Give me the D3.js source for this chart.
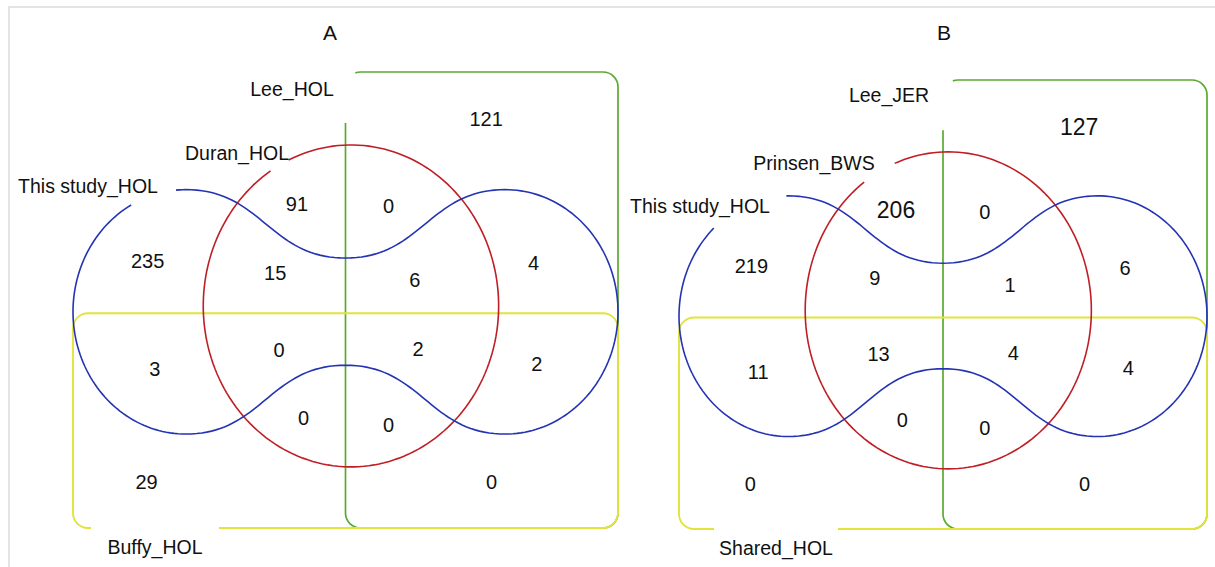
<!DOCTYPE html>
<html>
<head>
<meta charset="utf-8">
<script src="https://cdn.jsdelivr.net/npm/d3@7"></script>
<style>
  body { margin: 0; background: #fff; }
  text { font-family: "Liberation Sans", Arial, sans-serif; fill: #111; }
</style>
</head>
<body>
<div id="chart"></div>
<script>
const W = 1215, H = 567;

// region keys: T = this study (blue), D = second study (red), L = Lee (green), Y = fourth set (yellow)
const regionKeys = ['L', 'D', 'DL', 'T', 'TD', 'TDL', 'TL', 'TY', 'TDY', 'TDLY', 'TLY', 'DY', 'DLY', 'Y', 'LY'];
const valuesA = [121, 91, 0, 235, 15, 6, 4, 3, 0, 2, 2, 0, 0, 29, 0];
const valuesB = [127, 206, 0, 219, 9, 1, 6, 11, 13, 4, 4, 0, 0, 0, 0];
const setNamesA = ['This study_HOL', 'Duran_HOL', 'Lee_HOL', 'Buffy_HOL'];
const setNamesB = ['This study_HOL', 'Prinsen_BWS', 'Lee_JER', 'Shared_HOL'];
const panelTitles = ['A', 'B'];

// where each region's count sits, in unit coordinates of a panel
const regionPos = {
  L: [0.758, 0.104], D: [0.411, 0.29], DL: [0.579, 0.294],
  T: [0.137, 0.414], TD: [0.371, 0.441], TDL: [0.627, 0.457], TL: [0.845, 0.418],
  TY: [0.150, 0.651], TDY: [0.378, 0.61], TDLY: [0.633, 0.607], TLY: [0.851, 0.641],
  DY: [0.423, 0.758], DLY: [0.579, 0.774], Y: [0.135, 0.9], LY: [0.768, 0.9]
};

const colors = { T: '#2433b4', D: '#bf1e24', L: '#5ca930', Y: '#e2e43c' };

const panels = [
  { left: 73, right: 618, top: 72, bottom: 528, titleX: 330,
    values: valuesA, names: setNamesA,
    labelPos: [[88, 186], [237, 153], [292, 89], [155, 547]],
    blueGap: [241, 265], redGap: [237, 245], yellowGap: [91, 219], big: [] },
  { left: 679, right: 1207, top: 80, bottom: 529, titleX: 944,
    values: valuesB, names: setNamesB,
    labelPos: [[700, 206], [814, 163], [889, 95], [776, 548]],
    blueGap: [227, 269], redGap: [234, 248], yellowGap: [714, 838], big: ['L', 'D'] }
];

const svg = d3.select('#chart').append('svg')
  .attr('width', W).attr('height', H);

// light frame line top and left
svg.append('path')
  .attr('d', `M9,${H} L9,7 L${W},7`)
  .attr('fill', 'none').attr('stroke', '#dcdcdc').attr('stroke-width', 1.5);

const rad = Math.PI / 180;

function ellipsePts(cx, cy, rx, ry, t0, t1) {
  const pts = [];
  const n = Math.max(2, Math.ceil(Math.abs(t1 - t0) / 2));
  for (let i = 0; i <= n; i++) {
    const t = (t0 + (t1 - t0) * i / n) * rad;
    pts.push([cx + rx * Math.cos(t), cy + ry * Math.sin(t)]);
  }
  return pts;
}

function bezierPts(p0, p1, p2, p3) {
  const pts = [];
  for (let i = 0; i <= 40; i++) {
    const s = i / 40, u = 1 - s;
    pts.push([
      u * u * u * p0[0] + 3 * u * u * s * p1[0] + 3 * u * s * s * p2[0] + s * s * s * p3[0],
      u * u * u * p0[1] + 3 * u * u * s * p1[1] + 3 * u * s * s * p2[1] + s * s * s * p3[1]
    ]);
  }
  return pts;
}

panels.forEach((p, pi) => {
  const x = d3.scaleLinear().domain([0, 1]).range([p.left, p.right]);
  const y = d3.scaleLinear().domain([0, 1]).range([p.top, p.bottom]);
  const line = d3.line().x(d => x(d[0])).y(d => y(d[1]));
  const g = svg.append('g');
  const r = 15;

  svg.append('text')
    .attr('x', p.titleX).attr('y', 33).attr('dy', '0.35em')
    .attr('text-anchor', 'middle').style('font-size', '21px')
    .text(panelTitles[pi]);

  // green (Lee) : right half, gap at top-left corner
  {
    const X0 = x(0.5), X1 = x(1), Y0 = y(0), Y1 = y(1);
    const a = 250 * rad;
    const sx = X0 + r + r * Math.cos(a), sy = Y0 + r + r * Math.sin(a);
    const d = `M${sx},${sy} A${r},${r} 0 0 1 ${X0 + r},${Y0} L${X1 - r},${Y0}` +
      ` A${r},${r} 0 0 1 ${X1},${Y0 + r} L${X1},${Y1 - r} A${r},${r} 0 0 1 ${X1 - r},${Y1}` +
      ` L${X0 + r},${Y1} A${r},${r} 0 0 1 ${X0},${Y1 - r} L${X0},${y(0.112)}`;
    g.append('path').attr('d', d).attr('fill', 'none')
      .attr('stroke', colors.L).attr('stroke-width', 1.7);
  }

  // yellow : bottom half, gap in bottom edge for label
  {
    const X0 = x(0), X1 = x(1), Y0 = y(0.529), Y1 = y(1);
    const d = `M${p.yellowGap[1]},${Y1} L${X1 - r},${Y1} A${r},${r} 0 0 0 ${X1},${Y1 - r}` +
      ` L${X1},${Y0 + r} A${r},${r} 0 0 0 ${X1 - r},${Y0} L${X0 + r},${Y0}` +
      ` A${r},${r} 0 0 0 ${X0},${Y0 + r} L${X0},${Y1 - r} A${r},${r} 0 0 0 ${X0 + r},${Y1} L${p.yellowGap[0]},${Y1}`;
    g.append('path').attr('d', d).attr('fill', 'none')
      .attr('stroke', colors.Y).attr('stroke-width', 1.9);
  }

  // red ellipse with a small gap at upper left
  g.append('path')
    .attr('d', line(ellipsePts(0.51, 0.513, 0.271, 0.353, p.redGap[1], p.redGap[0] + 360)))
    .attr('fill', 'none').attr('stroke', colors.D).attr('stroke-width', 1.6);

  // blue dumbbell
  {
    const lc = [0.207, 0.526], rc = [0.793, 0.526], rx = 0.207, ry = 0.268;
    const k = 0.14, wT = 0.408, wB = 0.643;
    const top = lc[1] - ry, bot = lc[1] + ry;
    let pts = ellipsePts(lc[0], lc[1], rx, ry, p.blueGap[1], 270);
    pts = pts.concat(bezierPts([lc[0], top], [lc[0] + k, top], [0.5 - k, wT], [0.5, wT]));
    pts = pts.concat(bezierPts([0.5, wT], [0.5 + k, wT], [rc[0] - k, top], [rc[0], top]));
    pts = pts.concat(ellipsePts(rc[0], rc[1], rx, ry, 270, 450));
    pts = pts.concat(bezierPts([rc[0], bot], [rc[0] - k, bot], [0.5 + k, wB], [0.5, wB]));
    pts = pts.concat(bezierPts([0.5, wB], [0.5 - k, wB], [lc[0] + k, bot], [lc[0], bot]));
    pts = pts.concat(ellipsePts(lc[0], lc[1], rx, ry, 90, p.blueGap[0]));
    g.append('path').attr('d', line(pts)).attr('fill', 'none')
      .attr('stroke', colors.T).attr('stroke-width', 1.6);
  }

  // set labels
  g.selectAll('text.set').data(p.names).enter().append('text')
    .attr('class', 'set')
    .attr('x', (d, i) => p.labelPos[i][0]).attr('y', (d, i) => p.labelPos[i][1])
    .attr('dy', '0.35em').attr('text-anchor', 'middle')
    .style('font-size', '19.5px')
    .text(d => d);

  // region counts
  g.selectAll('text.count').data(regionKeys).enter().append('text')
    .attr('class', 'count')
    .attr('x', d => x(regionPos[d][0])).attr('y', d => y(regionPos[d][1]))
    .attr('dy', '0.35em').attr('text-anchor', 'middle')
    .style('font-size', d => p.big.includes(d) ? '23px' : '20px')
    .text((d, i) => p.values[i]);
});
</script>
</body>
</html>
